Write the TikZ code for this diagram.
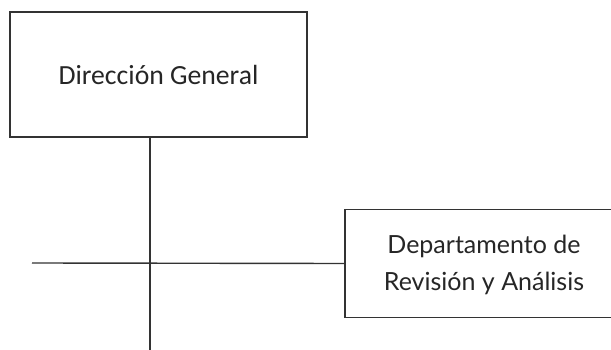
\documentclass[tikz,border=0pt]{standalone}
\usepackage{fontspec}
\setmainfont{Carlito}
\newfontfamily\deptfont{Lato}
\begin{document}
\begin{tikzpicture}[x=1pt,y=-1pt,
  boxstyle/.style={draw=black!80, line width=1.4pt, inner sep=0pt, text=black!85},
  labelstyle/.style={inner sep=0pt, text=black!85, align=center},
  linkstyle/.style={draw=black!80, line width=1.4pt}]
\useasboundingbox (0,0) rectangle (611,350);
\node[boxstyle, minimum width=297pt, minimum height=125pt, font=\fontsize{27.7}{32}\selectfont] (dg) at (158.5,74.5) {Dirección General};
\node[inner sep=0pt, minimum width=360pt, minimum height=107pt, anchor=west] (dep) at (345,263.5) {};
\draw[linkstyle] (dep.north east) -- (dep.north west) -- (dep.south west) -- (dep.south east);
\node[labelstyle, font=\deptfont\fontsize{25}{37}\selectfont] (deplabel) at (484,265) {Departamento de\\Revisión y Análisis};
\coordinate (cross) at (150,263);
\coordinate (left) at (32,263);
\coordinate (bottom) at (150,352);
\draw[linkstyle] (dg.south -| cross) -- (bottom);
\draw[linkstyle] (left) -- (dep.west);
\end{tikzpicture}
\end{document}
